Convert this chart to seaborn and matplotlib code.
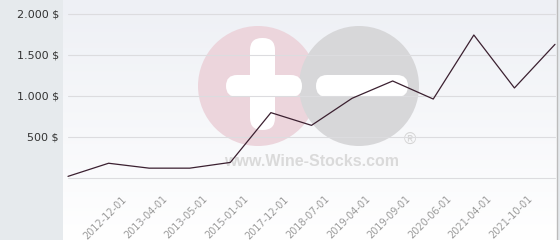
import numpy as np
import pandas as pd
import matplotlib
matplotlib.use("Agg")
import matplotlib.pyplot as plt
import seaborn as sns
from matplotlib.patches import Circle, FancyBboxPatch
from matplotlib.transforms import IdentityTransform, ScaledTranslation
from matplotlib.colors import LinearSegmentedColormap

# ---- data ----
tick_labels = ["", "2012-12-01", "2013-04-01", "2013-05-01", "2015-01-01", "2017-12-01",
               "2018-07-01", "2019-04-01", "2019-09-01", "2020-06-01", "2021-04-01",
               "2021-10-01", ""]
prices = [20, 180, 120, 120, 190, 797, 642, 972, 1183, 963, 1744, 1098, 1630]
y_ticks = [500, 1000, 1500, 2000]
y_tick_labels = ["500 $", "1.000 $", "1.500 $", "2.000 $"]

df = pd.DataFrame({"idx": np.arange(len(prices)), "price": prices})

sns.set_style("white")
plt.rcParams['font.family'] = ['DejaVu Sans']

W, H = 560, 240
fig = plt.figure(figsize=(W / 100, H / 100), dpi=100)
fig.patch.set_facecolor("#e6eaed")

ax = fig.add_axes([63 / W, 0, (557 - 63) / W, 1])
ax.set_facecolor("white")

n = len(prices)
step = (555 - 68) / (n - 1)
x_left = -(68 - 63) / step
x_right = (n - 1) + (557 - 555) / step
ppu = (178 - 14) / 2000.0
y_bottom = -(240 - 178) / ppu
y_top = 2000 + 14 / ppu
ax.set_xlim(x_left, x_right)
ax.set_ylim(y_bottom, y_top)

# background gradient
grad = np.linspace(0, 1, 256).reshape(-1, 1)
cmap = LinearSegmentedColormap.from_list("bg", ["#eef0f5", "#ffffff"])
ax.imshow(grad, aspect="auto", cmap=cmap, extent=[x_left, x_right, y_bottom, y_top],
          origin="upper", zorder=0)

# watermark (display pixel coords), drawn inside the axes under the grid
tr = IdentityTransform()
def Y(y):
    return H - y
wm = [
    Circle((258, Y(86)), 60, facecolor="#ecd5dc"),
    Circle((359, Y(86)), 60, facecolor="#d7d7d9"),
    FancyBboxPatch((226, Y(97)), 76, 22, boxstyle="round,pad=0,rounding_size=11", facecolor="white"),
    FancyBboxPatch((250, Y(130)), 25, 92, boxstyle="round,pad=0,rounding_size=12", facecolor="white"),
    FancyBboxPatch((316, Y(97)), 92, 22, boxstyle="round,pad=0,rounding_size=11", facecolor="white"),
]
for p in wm:
    p.set_transform(tr)
    p.set_edgecolor("none")
    p.set_zorder(1)
    ax.add_patch(p)

ax.text(312, Y(161), "www.Wine-Stocks.com", ha="center", va="center", transform=tr,
        fontsize=11.5, fontweight="bold", color="#dadada", zorder=1.5,
        family=["Liberation Sans", "DejaVu Sans"])
ax.text(410, Y(140), "®", ha="center", va="center", transform=tr,
        fontsize=12, color="#d4d4d4", zorder=1.5, family=["Liberation Sans", "DejaVu Sans"])

# grid lines
for v in [0] + y_ticks:
    ax.plot([0, n - 1], [v, v], color="#dcdcdf", lw=0.8, zorder=2)

sns.lineplot(data=df, x="idx", y="price", ax=ax, color="#3b2030", lw=0.9, zorder=5)

ax.set_xticks([])
ax.set_yticks(y_ticks)
ax.set_yticklabels(y_tick_labels, fontsize=8, color="#333333")
ax.tick_params(axis="y", length=0, pad=3)
ax.set_xlabel("")
ax.set_ylabel("")

for s in ["top", "left", "bottom"]:
    ax.spines[s].set_visible(False)
ax.spines["right"].set_color("#bcbcbc")
ax.spines["right"].set_linewidth(1.0)

# x labels
off = ScaledTranslation(13 / 100, 0, fig.dpi_scale_trans)
for i, lab in enumerate(tick_labels):
    if lab:
        ax.text(i, (178 - 194) / ppu, lab, rotation=45, ha="right", va="top",
                rotation_mode="anchor", fontsize=7, color="#9a9a9a",
                transform=ax.transData + off, zorder=6)

fig.savefig("out.png", dpi=100, facecolor=fig.get_facecolor())
